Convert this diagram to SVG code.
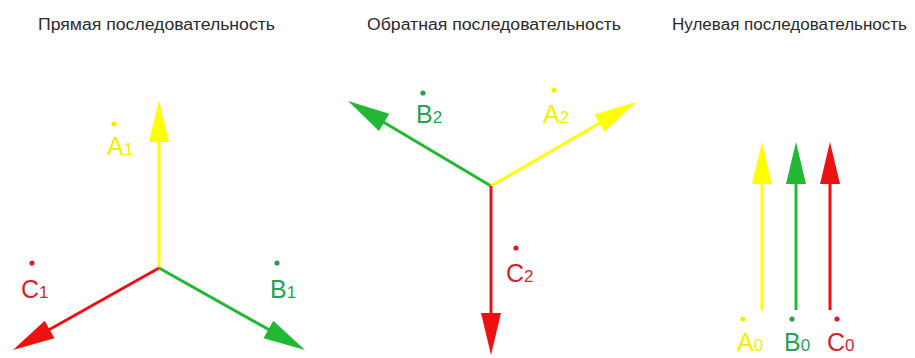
<svg xmlns="http://www.w3.org/2000/svg" width="915" height="358" viewBox="0 0 915 358">
<style>
.title{font-family:"Liberation Sans",Arial,sans-serif;font-size:16px;fill:#2a2a2a}
.lbl{font-family:"Liberation Sans",Arial,sans-serif;font-size:25px}
.sub{font-size:17px}
.y{stroke:#ffff00}.g{stroke:#22b833}.r{stroke:#ee1111}
line{stroke-width:3;fill:none}
.ty{fill:#f0f000}.tg{fill:#2aa055}.tr{fill:#d41f2e}
</style>
<defs>
<marker id="ay" markerUnits="userSpaceOnUse" markerWidth="44" markerHeight="22" refX="22" refY="11" orient="auto" viewBox="0 0 42 22"><path d="M0,1 L42,11 L0,21 Z" fill="#ffff00"/></marker>
<marker id="ag" markerUnits="userSpaceOnUse" markerWidth="44" markerHeight="22" refX="22" refY="11" orient="auto" viewBox="0 0 42 22"><path d="M0,1 L42,11 L0,21 Z" fill="#22b833"/></marker>
<marker id="ar" markerUnits="userSpaceOnUse" markerWidth="44" markerHeight="22" refX="22" refY="11" orient="auto" viewBox="0 0 42 22"><path d="M0,1 L42,11 L0,21 Z" fill="#ee1111"/></marker>
</defs>
<g id="titles">
<text class="title" x="38" y="30" textLength="237" lengthAdjust="spacingAndGlyphs">Прямая последовательность</text>
<text class="title" x="367" y="30" textLength="254" lengthAdjust="spacingAndGlyphs">Обратная последовательность</text>
<text class="title" x="672" y="30" textLength="235" lengthAdjust="spacingAndGlyphs">Нулевая последовательность</text>
</g>
<g id="connectors">
<line class="y" x1="159" y1="268" x2="159" y2="120" marker-end="url(#ay)"/>
<line class="r" x1="159" y1="268" x2="30.4" y2="340.2" marker-end="url(#ar)"/>
<line class="g" x1="159" y1="268" x2="287.6" y2="340.2" marker-end="url(#ag)"/>
<line class="g" x1="491" y1="186" x2="365.2" y2="111.2" marker-end="url(#ag)"/>
<line class="y" x1="491" y1="186" x2="618.7" y2="112" marker-end="url(#ay)"/>
<line class="r" x1="491" y1="186" x2="491" y2="335" marker-end="url(#ar)"/>
<line class="y" x1="762" y1="310" x2="762" y2="162" marker-end="url(#ay)"/>
<line class="g" x1="796" y1="310" x2="796" y2="162" marker-end="url(#ag)"/>
<line class="r" x1="830" y1="310" x2="830" y2="162" marker-end="url(#ar)"/>
</g>
<g id="A1"><circle cx="114" cy="124" r="2.6" class="ty"/><text class="lbl ty" x="107" y="155">A<tspan class="sub">1</tspan></text></g>
<g id="C1"><circle cx="32" cy="263" r="2.6" class="tr"/><text class="lbl tr" x="21" y="298">C<tspan class="sub">1</tspan></text></g>
<g id="B1"><circle cx="277" cy="263" r="2.6" class="tg"/><text class="lbl tg" x="270" y="298">B<tspan class="sub">1</tspan></text></g>
<g id="B2"><circle cx="423" cy="93" r="2.6" class="tg"/><text class="lbl tg" x="416" y="123">B<tspan class="sub">2</tspan></text></g>
<g id="A2"><circle cx="554" cy="90" r="2.6" class="ty"/><text class="lbl ty" x="543" y="123">A<tspan class="sub">2</tspan></text></g>
<g id="C2"><circle cx="516" cy="248" r="2.6" class="tr"/><text class="lbl tr" x="506" y="282">C<tspan class="sub">2</tspan></text></g>
<g id="A0"><circle cx="743" cy="319" r="2.6" class="ty"/><text class="lbl ty" x="737" y="351">A<tspan class="sub">0</tspan></text></g>
<g id="B0"><circle cx="792" cy="319" r="2.6" class="tg"/><text class="lbl tg" x="784" y="351">B<tspan class="sub">0</tspan></text></g>
<g id="C0"><circle cx="837" cy="319" r="2.6" class="tr"/><text class="lbl tr" x="827" y="351">C<tspan class="sub">0</tspan></text></g>
</svg>
